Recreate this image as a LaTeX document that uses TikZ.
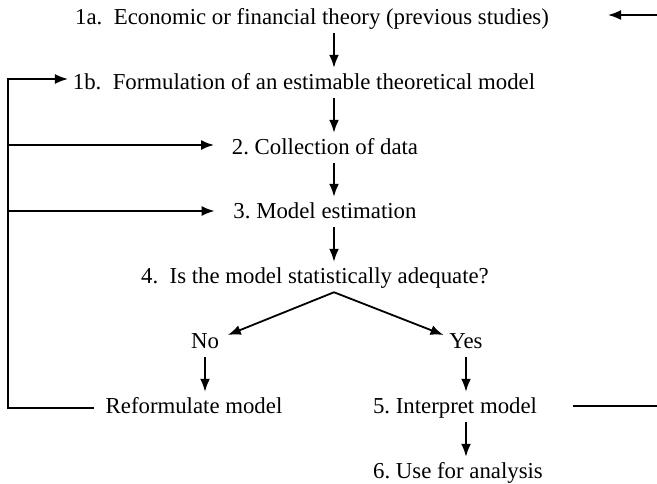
\documentclass[tikz,border=0pt]{standalone}
\usepackage{fontspec}
\setmainfont{Liberation Serif}
\usetikzlibrary{arrows.meta,calc}
\frenchspacing

\begin{document}
\begin{tikzpicture}[%show background rectangle,
    x=1pt, y=-1pt,
    font=\fontsize{22.8}{27}\selectfont,
    line width=1.8pt,
    >={Latex[length=13pt,width=10pt]}, % default arrow tips
    box/.style={inner sep=2pt, text height=17pt, text depth=5.7pt},
    flow/.style={->, shorten >=2pt}
    ]
        \useasboundingbox (0,0) rectangle (657,483);

        % helper coordinates
        \coordinate (col)  at (334,0);
        \coordinate (lft)  at (8,0);
        \coordinate (inR)  at (657,15);
        \coordinate (outR) at (657,406);

        % steps
        \node[box] (t1a)    at (312,19)  {1a.\ \ Economic or financial theory (previous studies)};
        \node[box] (t1b)    at (304,84)  {1b.\ \ Formulation of an estimable theoretical model};
        \node[box] (t2)     at (325,149) {2. Collection of data};
        \node[box] (t3)     at (325,213) {3. Model estimation};
        \node[box] (t4)     at (315,278) {4.\ \ Is the model statistically adequate?};
        \node[box] (no)     at (205,343) {No};
        \node[box] (yes)    at (466,343) {Yes};
        \node[box] (reform) at (194,408) {Reformulate model};
        \node[box] (t5)     at (455,408) {5. Interpret model};
        \node[box] (t6)     at (458,473) {6. Use for analysis};

        % main chain
        \draw[flow] (t1a.south -| col) -- (t1b.north -| col);
        \draw[flow] (t1b.south -| col) -- (t2.north -| col);
        \draw[flow] (t2.south -| col)  -- (t3.north -| col);
        \draw[flow] (t3.south -| col)  -- (t4.north -| col);

        % decision
        \draw[->]   (t4.south -| col) -- ($(no.east)+(6,-8)$);
        \draw[->]   (t4.south -| col) -- ($(yes.west)+(-3,-8)$);
        \draw[flow] (no)  -- (reform.north -| no);
        \draw[flow] (yes) -- (t5.north -| yes);
        \draw[flow] (t5.south -| yes) -- (t6.north -| yes);

        % feedback loop
        \draw[->, shorten <=9pt, shorten >=2pt]
                    (reform.west) -- (reform.west -| lft) |- ($(t1b.west)+(0,-5)$);
        \draw[->, shorten >=15pt] ($(lft |- t2.west)+(0,-4)$) -- ($(t2.west)+(0,-4)$);
        \draw[->, shorten >=16pt] ($(lft |- t3.west)+(0,-2)$) -- ($(t3.west)+(0,-2)$);

        % outside links
        \draw[->] (inR) -- ++(-49,0);
        \draw[shorten <=33pt] ($(t5.east)+(0,-2)$) -- (outR);
    \end{tikzpicture}
\end{document}
